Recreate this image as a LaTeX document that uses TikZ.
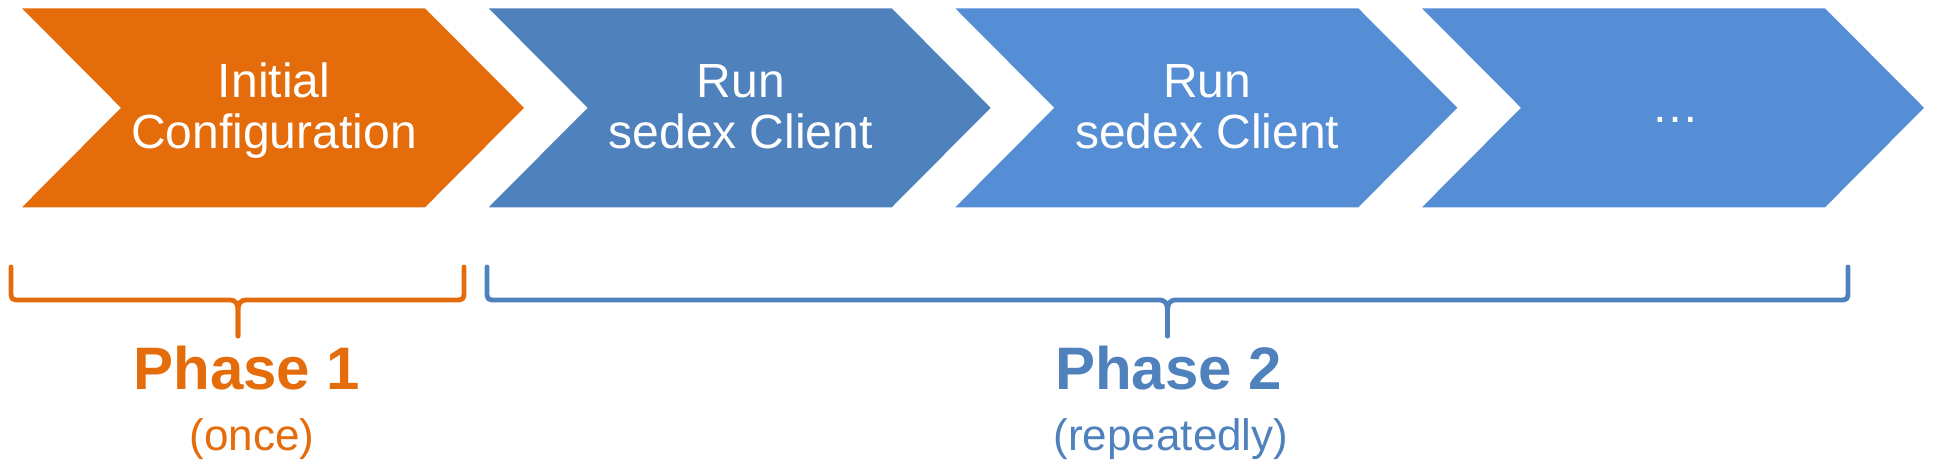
\documentclass[tikz,border=0pt]{standalone}
\usepackage{fontspec}
\setmainfont{Liberation Sans}
\definecolor{orng}{HTML}{E46C0A}
\definecolor{blueA}{HTML}{4F81BD}
\definecolor{blueB}{HTML}{558ED5}
\tikzset{
  chevlabel/.style={text=white, align=center, inner sep=0pt, font=\fontsize{48}{49.5}\selectfont},
  bracepath/.style={line width=4.8pt, line cap=round, line join=round},
  phasetitle/.style={anchor=base, inner sep=0pt, font=\fontsize{60}{66}\selectfont\bfseries},
  phasesub/.style={anchor=base, inner sep=0pt, font=\fontsize{44}{50}\selectfont},
}
\newcommand\mychev[2]{%
  \fill[#2] (#1,8.3) -- ++(403,0) -- ++(99,99.5) -- ++(-99,99.5) -- ++(-403,0) -- ++(99,-99.5) -- cycle;}
\newcommand\mybrace[4]{% left, right, center, color
  \draw[bracepath,#4] (#1,267) -- (#1,290) .. controls (#1,300) .. ({#1+10},300) -- ({#3-9},300)
      .. controls ({#3-2},300) and (#3,303) .. (#3,312) -- (#3,336);
  \draw[bracepath,#4] (#2,267) -- (#2,290) .. controls (#2,300) .. ({#2-10},300) -- ({#3+9},300)
      .. controls ({#3+2},300) and (#3,303) .. (#3,312) -- (#3,336);}
\begin{document}
\begin{tikzpicture}[x=1pt,y=-1pt]
\useasboundingbox (0,0) rectangle (1937,476);
\mychev{22}{orng}
\mychev{488.7}{blueA}
\mychev{955.3}{blueB}
\mychev{1422}{blueB}
\node[chevlabel] (c1) at (274,113.2) {\strut Initial\\\strut Configuration};
\node[chevlabel] (c2) at (740.7,113.2) {\strut Run\\\strut sedex Client};
\node[chevlabel] (c3) at (1207.3,113.2) {\strut Run\\\strut sedex Client};
\node[chevlabel, anchor=base] (c4) at (1675,123) {…};
\mybrace{11}{464}{238}{orng}
\mybrace{487}{1848}{1167.5}{blueA}
\node[phasetitle, text=orng] (p1) at (247,389) {Phase 1};
\node[phasesub, text=orng] (s1) at (252,450) {(once)};
\node[phasetitle, text=blueA] (p2) at (1168.5,389) {Phase 2};
\node[phasesub, text=blueA] (s2) at (1171,450) {(repeatedly)};
\end{tikzpicture}
\end{document}
